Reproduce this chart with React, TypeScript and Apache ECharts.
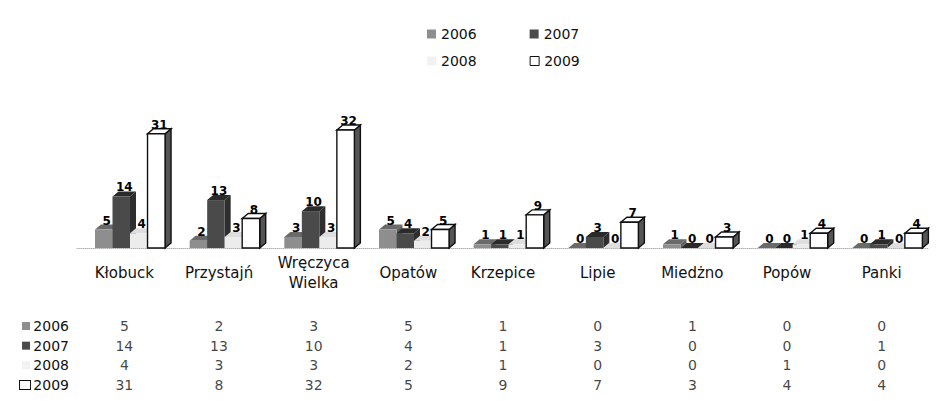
import React, { useEffect, useRef } from "react";
import * as echarts from "echarts";

const categories = ["Kłobuck", "Przystajń", "Wręczyca\nWielka", "Opatów", "Krzepice", "Lipie", "Miedżno", "Popów", "Panki"];
const years = ["2006", "2007", "2008", "2009"];
const v2006 = [5, 2, 3, 5, 1, 0, 1, 0, 0];
const v2007 = [14, 13, 10, 4, 1, 3, 0, 0, 1];
const v2008 = [4, 3, 3, 2, 1, 0, 0, 1, 0];
const v2009 = [31, 8, 32, 5, 9, 7, 3, 4, 4];
const seriesValues = [v2006, v2007, v2008, v2009];

const FONT = "DejaVu Sans";

const styles = [
  { front: "#8e8e8e", top: "#6a6a6a", side: "#5e5e5e", stroke: null },
  { front: "#4a4a4a", top: "#2a2a2a", side: "#2e2e2e", stroke: null },
  { front: "#ececec", top: "#dedede", side: "#d0d0d0", stroke: null },
  { front: "#ffffff", top: "#ffffff", side: "#555555", stroke: "#111111" },
];

function makeRender(si: number) {
  const st = styles[si];
  return (params: any, api: any) => {
    const c = api.value(0);
    const v = api.value(1);
    const p0 = api.coord([c, 0]);
    const p1 = api.coord([c, v]);
    const band = api.size([1, 0])[0];
    const w = band * 0.185;
    const dx = 6;
    const dy = 5;
    const x = p0[0] - band * 0.31 + si * w;
    const yb = p0[1];
    const yt = p1[1];
    const h = yb - yt;
    const lw = st.stroke ? 1.4 : 0;
    const stroke = st.stroke || undefined;
    return {
      type: "group",
      children: [
        {
          type: "polygon",
          shape: { points: [[x + w, yt], [x + w + dx, yt - dy], [x + w + dx, yb - dy], [x + w, yb]] },
          style: { fill: st.side, stroke, lineWidth: lw },
        },
        {
          type: "polygon",
          shape: { points: [[x, yt], [x + dx, yt - dy], [x + w + dx, yt - dy], [x + w, yt]] },
          style: { fill: st.top, stroke, lineWidth: lw },
        },
        {
          type: "rect",
          shape: { x, y: yt, width: w, height: h },
          style: { fill: st.front, stroke, lineWidth: lw },
        },
        {
          type: "text",
          x: x + w / 2 + dx / 2,
          y: yt - dy + 2,
          style: {
            text: String(v),
            align: "center",
            verticalAlign: "bottom",
            fill: "#000",
            font: `bold 12px ${FONT}`,
          },
        },
      ],
    };
  };
}

const markerRich: any = {
  m0: { width: 8, height: 8, backgroundColor: "#8e8e8e" },
  m1: { width: 8, height: 8, backgroundColor: "#4a4a4a" },
  m2: { width: 8, height: 8, backgroundColor: "#f2f2f2" },
  m3: { width: 10, height: 8, backgroundColor: "#fff", borderColor: "#111", borderWidth: 1 },
  t: { fontSize: 14, fontFamily: FONT, color: "#111" },
};

export default function App() {
  const ref = useRef<HTMLDivElement>(null);
  useEffect(() => {
    if (!ref.current) return;
    const chart = echarts.init(ref.current, undefined, { renderer: "svg" });
    const tableData: any[] = [];
    seriesValues.forEach((vals, yi) => {
      vals.forEach((v, ci) => tableData.push([ci, yi, v]));
    });
    const legendBase = {
      left: 414,
      itemWidth: 9,
      itemHeight: 9,
      itemGap: 53,
      icon: "rect",
      selectedMode: false,
      textStyle: { fontSize: 14, fontFamily: FONT, color: "#111" },
    };
    chart.setOption({
      animation: false,
      backgroundColor: "#fff",
      legend: [
        { ...legendBase, top: 14, data: ["2006", "2007"] },
        {
          ...legendBase,
          top: 41,
          data: [
            { name: "2008", itemStyle: { color: "#f2f2f2" } },
            { name: "2009", itemStyle: { color: "#fff", borderColor: "#111", borderWidth: 1 } },
          ],
        },
      ],
      grid: [
        { left: 69, right: 1, top: 111, bottom: 145 },
        { left: 69, right: 1, top: 318, bottom: 8 },
      ],
      xAxis: [
        {
          type: "category",
          gridIndex: 0,
          data: categories,
          axisTick: { show: false },
          axisLine: { show: true, lineStyle: { color: "#b5b5b5", type: "dotted", width: 1 } },
          axisLabel: {
            interval: 0,
            margin: 25,
            verticalAlign: "middle",
            fontSize: 15,
            lineHeight: 20,
            fontFamily: FONT,
            color: "#111",
          },
        },
        {
          type: "category",
          gridIndex: 1,
          data: categories,
          show: false,
        },
      ],
      yAxis: [
        { type: "value", gridIndex: 0, min: 0, max: 35, show: false },
        {
          type: "value",
          gridIndex: 1,
          min: 0,
          max: 3,
          interval: 1,
          inverse: true,
          axisLine: { show: false },
          axisTick: { show: false },
          splitLine: { show: false },
          axisLabel: {
            margin: 8,
            formatter: (val: number) => `{m${val}|} {t|${years[val]}}`,
            rich: markerRich,
          },
        },
      ],
      series: [
        ...years.map((y, si) => ({
          type: "custom",
          name: y,
          xAxisIndex: 0,
          yAxisIndex: 0,
          itemStyle: { color: styles[si].front },
          data: seriesValues[si].map((v, i) => [i, v]),
          encode: { x: 0, y: 1 },
          renderItem: makeRender(si),
        })),
        {
          type: "scatter",
          name: "table",
          xAxisIndex: 1,
          yAxisIndex: 1,
          symbolSize: 1,
          itemStyle: { color: "rgba(0,0,0,0)" },
          data: tableData,
          label: {
            show: true,
            position: "inside",
            formatter: (p: any) => String(p.value[2]),
            fontSize: 14,
            fontFamily: FONT,
            color: "#111",
          },
        },
      ],
    });
    return () => chart.dispose();
  }, []);
  return <div ref={ref} style={{ width: 922, height: 385 }} />;
}
